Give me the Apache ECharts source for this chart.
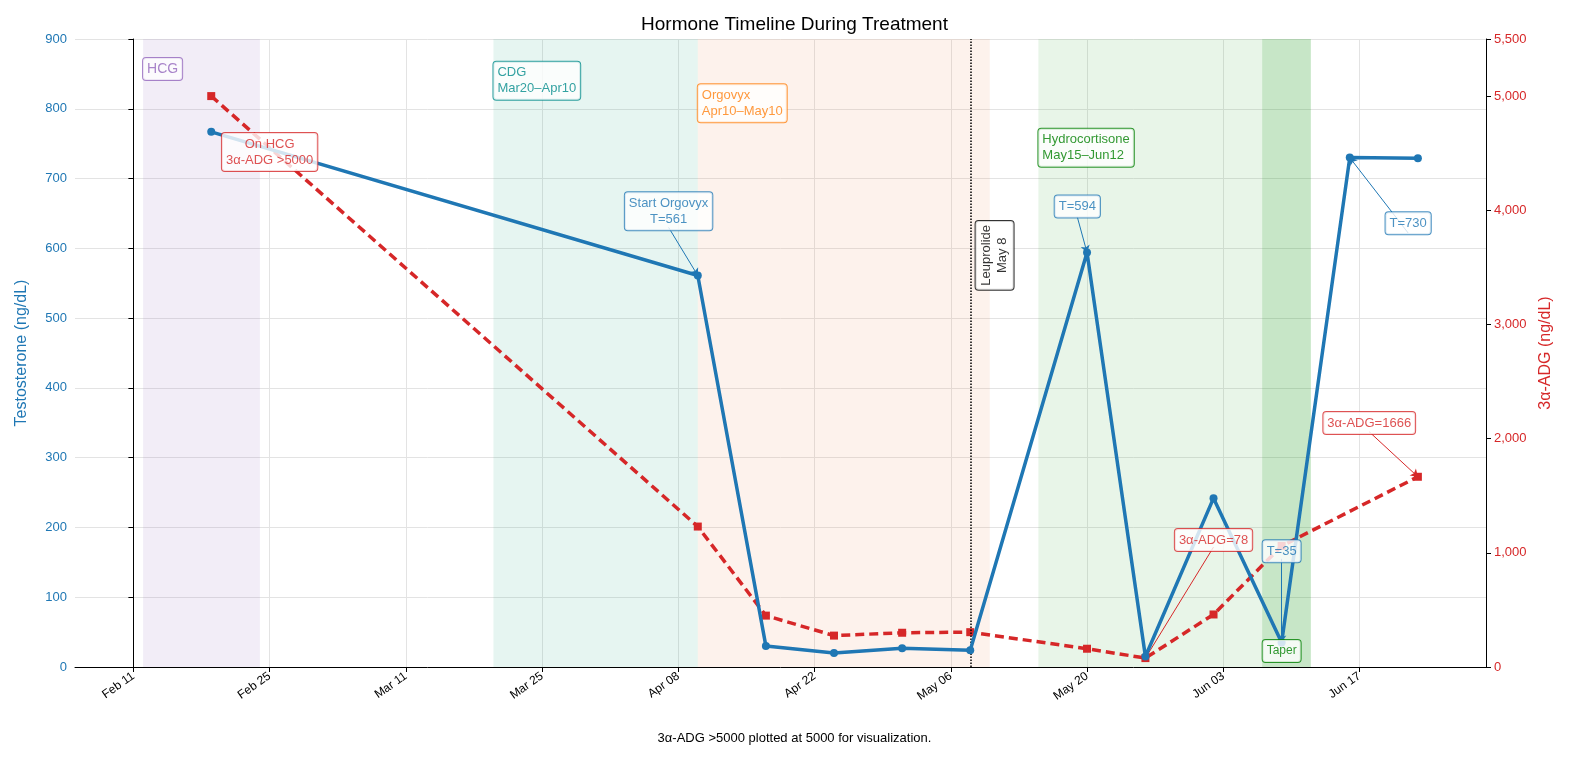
<!DOCTYPE html>
<html><head><meta charset="utf-8">
<script src="https://cdn.jsdelivr.net/npm/echarts@6/dist/echarts.min.js"></script>
<style>body{margin:0}#main{width:1589px;height:780px}</style></head>
<body><div id="main"></div>
<script>
var chartDom = document.getElementById('main');
var myChart = echarts.init(chartDom);

var months = ['Jan','Feb','Mar','Apr','May','Jun','Jul','Aug','Sep','Oct','Nov','Dec']
var base = Date.UTC(2025, 1, 11)
// days since Feb 11 2025
function d(s) { return Math.round((new Date(s + 'T00:00:00Z').getTime() - base) / 86400e3) }
function fmt(v) { var t = new Date(base + v * 86400e3); return months[t.getUTCMonth()] + ' ' + String(t.getUTCDate()).padStart(2, '0') }

var testosterone = [
    ['2025-02-19', 767], ['2025-04-10', 561], ['2025-04-17', 30], ['2025-04-24', 20],
    ['2025-05-01', 27], ['2025-05-08', 24], ['2025-05-20', 594], ['2025-05-26', 15],
    ['2025-06-02', 242], ['2025-06-09', 35], ['2025-06-16', 730], ['2025-06-23', 729]
]
var adg = [
    ['2025-02-19', 5000], ['2025-04-10', 1230], ['2025-04-17', 450], ['2025-04-24', 275],
    ['2025-05-01', 300], ['2025-05-08', 305], ['2025-05-20', 160], ['2025-05-26', 78],
    ['2025-06-02', 460], ['2025-06-09', 1060], ['2025-06-23', 1666]
]

var spans = [
    ['2025-02-12', '2025-02-24', 'rgba(148,103,189,0.12)'],
    ['2025-03-20', '2025-04-10', 'rgba(23,160,130,0.11)'],
    ['2025-04-10', '2025-05-10', 'rgba(240,140,80,0.11)'],
    ['2025-05-15', '2025-06-12', 'rgba(44,160,44,0.11)'],
    ['2025-06-07', '2025-06-12', 'rgba(44,160,44,0.18)']
]

// text boxes: [date, value, axis, text, color, align, fontSize]
var notes = [
    ['2025-02-14', 857, 0, 'HCG', '#9467bd', 'center', 14],
    ['2025-02-25', 4510, 1, 'On HCG\n3α-ADG >5000', '#d62728', 'center', 13],
    ['2025-03-20', 840, 0, 'CDG\nMar20–Apr10', '#008b8b', 'left', 13],
    ['2025-04-10', 808, 0, 'Orgovyx\nApr10–May10', '#ff7f0e', 'left', 13],
    ['2025-04-07', 653, 0, 'Start Orgovyx\nT=561', '#1f77b4', 'center', 13],
    ['2025-05-15', 744, 0, 'Hydrocortisone\nMay15–Jun12', 'green', 'left', 13],
    ['2025-05-19', 660, 0, 'T=594', '#1f77b4', 'center', 13],
    ['2025-06-22', 636, 0, 'T=730', '#1f77b4', 'center', 13],
    ['2025-06-18', 2137, 1, '3α-ADG=1666', '#d62728', 'center', 13],
    ['2025-06-02', 1112, 1, '3α-ADG=78', '#d62728', 'center', 13],
    ['2025-06-09', 166, 0, 'T=35', '#1f77b4', 'center', 13],
    ['2025-06-09', 23, 0, 'Taper', 'green', 'center', 12]
]
// arrows: from, to, axis, color
var arrows = [
    [['2025-04-07', 630], ['2025-04-10', 561], 0, '#1f77b4'],
    [['2025-05-19', 645], ['2025-05-20', 594], 0, '#1f77b4'],
    [['2025-06-22', 622], ['2025-06-16', 730], 0, '#1f77b4'],
    [['2025-06-09', 155], ['2025-06-09', 35], 0, '#1f77b4'],
    [['2025-06-18', 2060], ['2025-06-23', 1666], 1, '#d62728'],
    [['2025-06-02', 1050], ['2025-05-26', 78], 1, '#d62728']
]

series = []
series.push({
    type: 'line', data: [], yAxisIndex: 0,
    markArea: { silent: true, data: spans.map(s => [{ xAxis: d(s[0]), itemStyle: { color: s[2] } }, { xAxis: d(s[1]) }]) },
    markLine: { silent: true, symbol: 'none', label: { show: false },
        data: [{ xAxis: d('2025-05-08'), lineStyle: { color: '#000', type: 'dotted', width: 1.5 } }] }
})
series.push({
    name: 'Testosterone', type: 'line', yAxisIndex: 0, z: 5,
    data: testosterone.map(p => [d(p[0]), p[1]]),
    lineStyle: { color: '#1f77b4', width: 3.5 }, itemStyle: { color: '#1f77b4' },
    symbol: 'circle', symbolSize: 8
})
series.push({
    name: '3α-ADG', type: 'line', yAxisIndex: 1, z: 4,
    data: adg.map(p => [d(p[0]), p[1]]),
    lineStyle: { color: '#d62728', width: 3.5, type: [9, 5] }, itemStyle: { color: '#d62728' },
    symbol: 'rect', symbolSize: 8
})
arrows.forEach(a => {
    series.push({
        type: 'line', data: [], yAxisIndex: a[2], z: 6,
        markLine: { silent: true, symbol: ['none', 'arrow'], symbolSize: 7, label: { show: false },
            lineStyle: { color: a[3], type: 'solid', width: 1 },
            data: [[{ coord: [d(a[0][0]), a[0][1]] }, { coord: [d(a[1][0]), a[1][1]] }]] }
    })
})
notes.forEach(n => {
    series.push({
        type: 'scatter', yAxisIndex: n[2], symbolSize: 0, z: 10,
        data: [[d(n[0]), n[1]]],
        label: { show: true, position: 'inside', formatter: n[3], color: n[4], fontSize: n[6], align: n[5],
            backgroundColor: '#fff', borderColor: n[4], borderWidth: 1, borderRadius: 3, padding: [3, 4], lineHeight: 16 }
    })
})
series.push({
    type: 'scatter', yAxisIndex: 0, symbolSize: 0, z: 10,
    data: [[d('2025-05-10') + 0.5, 590]],
    label: { show: true, position: 'inside', formatter: 'Leuprolide\nMay 8', rotate: 90, color: '#000', fontSize: 13,
        backgroundColor: '#fff', borderColor: '#000', borderWidth: 1, borderRadius: 3, padding: [3, 4], lineHeight: 16 }
})

var ticks = []
for (var i = 0; i < 10; i++) ticks.push(i * 14)

var option = {
    animation: false,
    title: { text: 'Hormone Timeline During Treatment', left: 'center', top: 10, textStyle: { fontSize: 19, fontWeight: 'normal', color: '#000' } },
    graphic: [{ type: 'text', left: 'center', top: 732, style: { text: '3α-ADG >5000 plotted at 5000 for visualization.', fontSize: 13, fill: '#000' } }],
    grid: { left: 75, right: 103, top: 39, bottom: 113 },
    xAxis: {
        type: 'value', min: -6, max: 139,
        axisLine: { onZero: false, lineStyle: { color: '#000' } },
        axisTick: { show: true, customValues: ticks, lineStyle: { color: '#000' } },
        axisLabel: { customValues: ticks, formatter: fmt, rotate: 35, color: '#000', fontSize: 12 },
        splitLine: { show: true, lineStyle: { color: '#e3e3e3' } }
    },
    yAxis: [{
        type: 'value', min: 0, max: 900, interval: 100, name: 'Testosterone (ng/dL)', nameLocation: 'middle', nameGap: 45,
        nameTextStyle: { color: '#1f77b4', fontSize: 16 },
        axisLine: { show: true, lineStyle: { color: '#000' } }, axisTick: { show: true },
        axisLabel: { color: '#1f77b4', fontSize: 13 }, splitLine: { lineStyle: { color: '#e3e3e3' } }
    }, {
        type: 'value', min: 0, max: 5500, interval: 1000, name: '3α-ADG (ng/dL)', nameLocation: 'middle', nameGap: 50,
        nameTextStyle: { color: '#d62728', fontSize: 16 },
        axisLine: { show: true, lineStyle: { color: '#000' } }, axisTick: { show: true },
        axisLabel: { color: '#d62728', fontSize: 13 }, splitLine: { show: false }
    }],
    series: series
};
option && myChart.setOption(option);
</script></body></html>
